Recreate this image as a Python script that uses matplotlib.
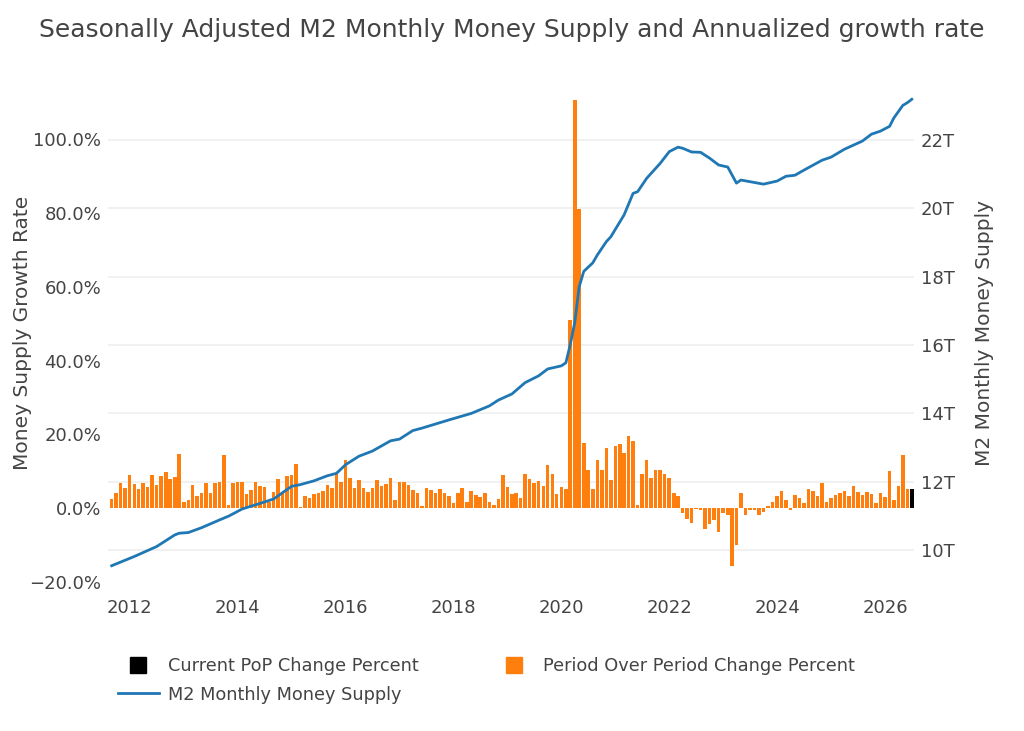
import numpy as np
import pandas as pd
import matplotlib
matplotlib.use('Agg')
import matplotlib.pyplot as plt
import matplotlib.dates as mdates
from matplotlib.lines import Line2D
from matplotlib.ticker import FuncFormatter

# annualized month-over-month growth, % (Sep 2011 .. Jun 2026)
period_change = [
    2.4, 4.1, 6.8, 5.4, 8.9, 6.5, 5.2, 6.8, 5.7, 8.9,
    6.2, 8.7, 9.8, 7.9, 8.5, 14.6, 1.8, 2.3, 6.4, 3.3,
    4.2, 6.8, 4.2, 6.8, 7.0, 14.4, 1.0, 6.8, 7.2, 7.0,
    3.9, 5.0, 7.2, 5.9, 5.7, 1.8, 4.4, 8.0, 4.3, 8.7,
    9.0, 12.1, 0.2, 3.4, 2.8, 3.9, 4.2, 4.6, 6.3, 5.5,
    9.4, 7.0, 13.0, 8.2, 5.5, 7.6, 5.5, 4.5, 5.4, 7.6,
    6.1, 6.7, 8.3, 2.3, 7.2, 7.0, 6.3, 4.9, 4.2, 0.7,
    5.4, 4.9, 4.2, 5.1, 4.2, 3.3, 1.3, 4.1, 5.6, 1.7,
    4.8, 3.5, 3.1, 4.2, 1.8, 1.0, 2.4, 8.9, 5.7, 3.9,
    4.2, 2.7, 9.2, 7.9, 6.8, 7.5, 5.9, 11.6, 9.4, 3.8,
    5.7, 5.2, 51.0, 110.8, 81.2, 17.8, 10.3, 5.3, 13.0, 10.3,
    16.4, 7.6, 17.0, 17.5, 15.0, 19.5, 18.2, 0.8, 9.4, 13.0,
    8.3, 10.5, 10.3, 9.4, 8.3, 4.2, 3.3, -1.2, -2.8, -3.9,
    -0.1, -0.4, -5.5, -4.2, -3.1, -6.4, -1.2, -1.9, -15.6, -10.0,
    4.1, -1.8, -0.4, -0.5, -1.7, -0.9, 0.5, 1.6, 3.2, 4.8,
    2.3, -0.5, 3.7, 2.7, 1.4, 5.3, 4.6, 3.3, 6.8, 1.7,
    2.7, 3.7, 4.2, 4.7, 3.4, 5.9, 4.5, 3.5, 4.5, 3.8,
    1.4, 4.0, 3.0, 10.2, 2.1, 6.1, 14.3, 5.3,
]
current_change = 5.3  # Jul 2026

# M2 level (trillions), month offsets from Sep 2011
m2_month = [0, 5, 10, 14, 15, 17, 20, 24, 26, 29, 33, 36, 40, 42, 45, 48, 50,
            52, 55, 58, 62, 64, 67, 69, 75, 80, 84, 86, 89, 92, 95, 97, 100,
            101, 102, 103, 104, 105, 107, 108, 110, 111, 114, 116, 117, 119,
            122, 124, 126, 127, 129, 131, 133, 135, 137, 139, 140, 145, 148,
            150, 152, 154, 158, 160, 163, 167, 169, 171, 173, 174, 176, 177, 178]
m2_supply = [9.55, 9.82, 10.11, 10.45, 10.50, 10.52, 10.66, 10.89, 11.0, 11.21,
             11.37, 11.5, 11.87, 11.92, 12.03, 12.18, 12.25, 12.5, 12.75, 12.9,
             13.2, 13.25, 13.5, 13.57, 13.81, 14.0, 14.22, 14.39, 14.57, 14.9,
             15.1, 15.3, 15.39, 15.48, 16.0, 16.65, 17.7, 18.15, 18.4, 18.63,
             19.02, 19.16, 19.8, 20.43, 20.48, 20.87, 21.31, 21.65, 21.78, 21.75,
             21.64, 21.63, 21.46, 21.26, 21.2, 20.73, 20.82, 20.7, 20.79, 20.93,
             20.96, 21.11, 21.4, 21.49, 21.72, 21.96, 22.16, 22.25, 22.39, 22.63,
             23.0, 23.08, 23.18]

months = pd.date_range('2011-09-01', periods=len(period_change) + 1, freq='MS')
m2_dates = months[m2_month]

TXT = '#444444'
plt.rcParams['font.family'] = 'DejaVu Sans'

fig = plt.figure(figsize=(10.24, 7.31), dpi=100)
ax = fig.add_axes([108/1024, 1 - 589/731, (914-108)/1024, (589-76)/731])
ax2 = ax.twinx()

ylo, yhi = -21.9, 117.2
rlo, rhi = 8.87, 23.86
ax.set_ylim(ylo, yhi)
ax2.set_ylim(rlo, rhi)

# right-axis gridlines, drawn beneath the bars
rticks = np.arange(10, 23, 2)
for v in rticks:
    g = ylo + (v - rlo) * (yhi - ylo) / (rhi - rlo)
    ax.axhline(g, color='#eeeeee', lw=1.1, zorder=0)

w = 24
ax.bar(months[:-1], period_change, width=w, color='#ff7f0e', zorder=2)
ax.bar(months[-1:], [current_change], width=w, color='black', zorder=2)
ax2.plot(m2_dates, m2_supply, color='#1f77b4', lw=2.0, solid_joinstyle='round')

ax.set_xlim(pd.Timestamp('2011-08-07'), pd.Timestamp('2026-07-16'))
ax.xaxis.set_major_locator(mdates.YearLocator(2))
ax.xaxis.set_major_formatter(mdates.DateFormatter('%Y'))

ax.set_yticks(np.arange(-20, 101, 20))
ax.yaxis.set_major_formatter(FuncFormatter(lambda v, p: f'{v:.1f}%'.replace('-', '\u2212')))
ax2.set_yticks(rticks)
ax2.yaxis.set_major_formatter(FuncFormatter(lambda v, p: f'{v:.0f}T'))

for a in (ax, ax2):
    for s in a.spines.values():
        s.set_visible(False)
    a.tick_params(length=0, labelsize=13, labelcolor=TXT)
ax.tick_params(axis='x', pad=7)
ax.tick_params(axis='y', pad=5)
ax2.tick_params(axis='y', pad=5)

ax.set_ylabel('Money Supply Growth Rate', fontsize=14.5, color=TXT)
ax2.set_ylabel('M2 Monthly Money Supply', fontsize=14.5, color=TXT)
ax.yaxis.set_label_coords((32 - 108) / 806, 0.5)
ax2.yaxis.set_label_coords((975 - 108) / 806, 0.5)

fig.suptitle('Seasonally Adjusted M2 Monthly Money Supply and Annualized growth rate',
             x=0.5, y=1 - 30/731, va='center', fontsize=18, color=TXT)

handles = [
    Line2D([], [], marker='s', ls='', color='black', markersize=12),
    Line2D([], [], color='#1f77b4', lw=2.0),
    Line2D([], [], marker='s', ls='', color='#ff7f0e', markersize=12),
]
labels = ['Current PoP Change Percent', 'M2 Monthly Money Supply',
          'Period Over Period Change Percent']
leg = fig.legend(handles, labels, loc='upper left', ncol=2,
                 bbox_to_anchor=(102/1024, 1 - 641/731), frameon=False,
                 fontsize=12.8, handlelength=2.3, handletextpad=0.5,
                 columnspacing=4.2, labelspacing=0.6)
for t in leg.get_texts():
    t.set_color(TXT)

fig.savefig('out.png', dpi=100)
